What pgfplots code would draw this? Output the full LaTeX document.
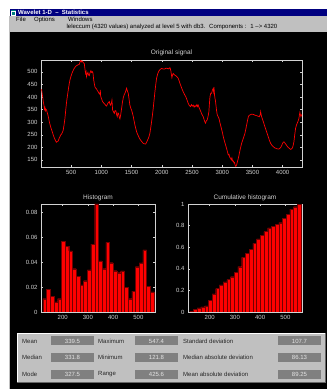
\documentclass[border=0pt]{standalone}
\usepackage{pgfplots}
\pgfplotsset{compat=1.18}
\usepackage{fontspec}
\setmainfont{Liberation Sans}
\definecolor{winblue}{RGB}{0,0,128}
\definecolor{wingray}{RGB}{192,192,192}
\definecolor{boxgray}{RGB}{128,128,128}
\definecolor{axgray}{RGB}{210,210,210}
\newcommand\tf{\fontsize{6}{7}\selectfont}

\pgfplotsset{
  matlab/.style={
    scale only axis,
    axis line style={axgray, line width=0.4pt},
    tick style={axgray, line width=0.4pt},
    major tick length=2pt,
    tick align=inside,
    scaled ticks=false,
    tick label style={font=\tf, text=axgray},
    /pgf/number format/assume math mode=true,
    /pgf/number format/1000 sep={},
  },
  hbar/.style={ybar, bar width=14.7, fill=red, draw=red!45!black, line width=0.2pt},
}

\begin{document}
\begin{tikzpicture}[x=1pt, y=1pt]
\useasboundingbox (0,0) rectangle (327,389);
\fill[white] (0,0) rectangle (327,389);
% window frame
\fill[wingray] (9,0) rectangle (327,372.5);
\fill[winblue] (10,372.5) rectangle (327,379.5);
\fill[teal] (11,373.5) rectangle (16,378.5);
\draw[white, line width=0.4pt] (11.5,374) rectangle (15.5,378);
\node[anchor=base west, text=white, font=\tf\bfseries, inner sep=0] at (18,374) {Wavelet 1-D \ -- \ Statistics};
\node[anchor=base west, font=\tf, inner sep=0] at (16,367) {File};
\node[anchor=base west, font=\tf, inner sep=0] at (34,367) {Options};
\node[anchor=base west, font=\tf, inner sep=0] at (68,367) {Windows};
\node[anchor=base, font=\tf, inner sep=0] at (172,360) {leleccum (4320 values) analyzed at level 5 with db3. \ Components : \ 1 --> 4320};
\fill[black] (10,0) rectangle (327,357);

% original signal
\begin{axis}[matlab, at={(41pt,222pt)}, anchor=south west,
  width=261pt, height=107pt,
  xmin=1, xmax=4320, ymin=121.8, ymax=547.4,
  xtick={500,1000,1500,2000,2500,3000,3500,4000},
  ytick={150,200,250,300,350,400,450,500}]
\addplot[red, line width=0.7pt] coordinates {
(1,430) (12,428) (28,401) (40,380) (50,368) (58,352) (66,358) (74,346) (82,352) (94,348)
(104,338) (114,330) (122,322) (140,300) (160,282) (182,266) (204,249) (220,238) (237,229) (250,222)
(259,220) (270,224) (287,225) (300,235) (314,242) (328,250) (342,253) (356,260) (369,269) (383,290)
(397,315) (411,350) (425,382) (440,408) (452,428) (466,450) (480,468) (494,480) (507,490) (526,502)
(546,512) (568,520) (590,525) (612,528) (634,530) (645,538) (656,547) (668,540) (680,544) (689,541)
(703,536) (717,534) (728,512) (739,494) (747,500) (755,481) (766,492) (777,498) (788,488) (800,485)
(812,496) (827,505) (840,498) (855,501) (863,492) (871,472) (882,455) (893,441) (905,436) (921,432)
(935,425) (948,421) (962,414) (976,411) (982,428) (988,404) (1000,395) (1020,382) (1040,376) (1059,371)
(1073,367) (1087,364) (1100,372) (1115,378) (1131,382) (1142,372) (1153,368) (1165,376) (1175,388) (1186,348)
(1200,342) (1214,335) (1227,346) (1241,345) (1252,330) (1263,322) (1274,337) (1285,335) (1296,320) (1307,313)
(1320,330) (1335,355) (1348,378) (1362,397) (1376,408) (1390,415) (1404,424) (1417,435) (1431,424) (1445,415)
(1458,392) (1472,368) (1486,356) (1500,348) (1514,336) (1528,322) (1542,305) (1555,289) (1569,275) (1583,262)
(1597,253) (1611,246) (1630,236) (1649,229) (1671,222) (1693,216) (1712,214) (1732,213) (1748,220) (1765,229)
(1785,240) (1803,256) (1817,278) (1831,302) (1845,328) (1858,355) (1872,388) (1886,421) (1900,450) (1914,475)
(1932,492) (1952,504) (1975,510) (1996,514) (2020,512) (2051,512) (2070,515) (2090,514) (2112,512) (2134,517)
(2142,512) (2150,504) (2158,490) (2167,477) (2178,488) (2189,494) (2210,488) (2233,485) (2252,480) (2271,475)
(2290,462) (2310,448) (2332,434) (2354,421) (2376,410) (2398,401) (2418,388) (2437,375) (2456,366) (2475,362)
(2490,370) (2505,364) (2520,368) (2535,360) (2550,366) (2564,362) (2580,370) (2592,362) (2602,368) (2620,356)
(2641,345) (2662,332) (2685,322) (2700,310) (2712,302) (2724,296) (2738,306) (2751,309) (2765,322) (2779,342)
(2790,380) (2797,401) (2810,415) (2824,415) (2838,428) (2852,435) (2858,420) (2866,430) (2874,405) (2880,395)
(2888,385) (2896,368) (2907,345) (2918,329) (2932,322) (2946,315) (2962,298) (2979,282) (3000,262) (3018,242)
(3036,225) (3056,209) (3078,190) (3100,170) (3112,172) (3125,160) (3139,156) (3150,150) (3160,158) (3172,145)
(3183,146) (3195,138) (3205,140) (3211,130) (3225,124) (3238,130) (3250,142) (3266,156) (3280,172) (3294,189)
(3308,203) (3321,216) (3335,226) (3349,236) (3362,245) (3376,256) (3390,272) (3404,289) (3418,306) (3432,322)
(3445,327) (3459,329) (3486,332) (3514,331) (3540,328) (3569,326) (3590,324) (3614,322) (3628,330) (3636,342)
(3644,330) (3652,322) (3666,312) (3680,302) (3702,285) (3724,269) (3743,255) (3762,242) (3780,228) (3801,216)
(3822,208) (3845,203) (3867,198) (3889,196) (3911,194) (3933,193) (3950,195) (3966,199) (3983,207) (3999,216)
(4010,220) (4021,222) (4038,217) (4054,212) (4073,205) (4093,199) (4112,196) (4131,192) (4148,194) (4164,199)
(4176,210) (4186,222) (4200,250) (4214,276) (4228,288) (4241,296) (4255,304) (4269,315) (4278,330) (4285,339)
(4293,330) (4302,322) (4312,328) (4320,331)
};
\end{axis}
\node[font=\fontsize{6.5}{7}\selectfont, text=axgray] at (171.5,336) {Original signal};

% histogram
\begin{axis}[matlab, at={(41pt,77pt)}, anchor=south west,
  width=114pt, height=108pt,
  xmin=114, xmax=566, ymin=0, ymax=0.0864,
  xtick={200,300,400,500},
  ytick={0,0.02,0.04,0.06,0.08},
  yticklabels={0,0.02,0.04,0.06,0.08}]
\addplot[hbar] coordinates {
(128.4,0.0107) (143.1,0.0180) (157.8,0.0126) (172.5,0.0080) (187.2,0.0107)
(201.9,0.0564) (216.6,0.0526) (231.3,0.0489) (246.0,0.0346) (260.7,0.0287)
(275.4,0.0217) (290.1,0.0250) (304.8,0.0336) (319.5,0.0542) (334.2,0.0864)
(348.9,0.0408) (363.6,0.0346) (378.3,0.0556) (393.0,0.0395) (407.7,0.0330)
(422.4,0.0314) (437.1,0.0328) (451.8,0.0199) (466.5,0.0107) (481.2,0.0166)
(495.9,0.0362) (510.6,0.0392) (525.3,0.0497) (540.0,0.0204) (554.7,0.0161)
};
\end{axis}
\node[font=\fontsize{6.5}{7}\selectfont, text=axgray] at (98,191) {Histogram};

% cumulative histogram
\begin{axis}[matlab, at={(188pt,77pt)}, anchor=south west,
  width=114pt, height=108pt,
  xmin=114, xmax=566, ymin=0, ymax=1,
  xtick={200,300,400,500},
  ytick={0,0.2,0.4,0.6,0.8,1},
  yticklabels={0,0.2,0.4,0.6,0.8,1}]
\addplot[hbar] coordinates {
(128.4,0.009) (143.1,0.025) (157.8,0.038) (172.5,0.047) (187.2,0.057)
(201.9,0.110) (216.6,0.167) (231.3,0.217) (246.0,0.250) (260.7,0.280)
(275.4,0.300) (290.1,0.327) (304.8,0.365) (319.5,0.420) (334.2,0.506)
(348.9,0.544) (363.6,0.578) (378.3,0.635) (393.0,0.676) (407.7,0.708)
(422.4,0.745) (437.1,0.780) (451.8,0.796) (466.5,0.811) (481.2,0.827)
(495.9,0.865) (510.6,0.902) (525.3,0.953) (540.0,0.975) (554.7,0.997)
};
\end{axis}
\node[font=\fontsize{6.5}{7}\selectfont, text=axgray] at (245,191) {Cumulative histogram};

% statistics panel
\fill[wingray] (17,7) rectangle (325,56);
\draw[white, line width=0.5pt] (17,7) -- (17,56) -- (325,56);
\draw[black!60, line width=0.5pt] (17,7) -- (325,7) -- (325,56);
\foreach \yy/\la/\va/\lb/\vb/\lc/\vc in {
  48/Mean/339.5/Maximum/547.4/Standard deviation/107.7,
  31.5/Median/331.8/Minimum/121.8/Median absolute deviation/86.13,
  14.5/Mode/327.5/Range/425.6/Mean absolute deviation/89.25} {
  \node[anchor=west, font=\tf, text=black!85, inner sep=0] at (22,\yy) {\la};
  \node[anchor=west, font=\tf, text=black!85, inner sep=0] at (98,\yy) {\lb};
  \node[anchor=west, font=\tf, text=black!85, inner sep=0] at (183,\yy) {\lc};
  \fill[boxgray] (51,\yy-4.5) rectangle (94,\yy+4.5);
  \fill[boxgray] (135,\yy-4.5) rectangle (178,\yy+4.5);
  \fill[boxgray] (278,\yy-4.5) rectangle (321,\yy+4.5);
  \node[font=\tf, text=black!10, inner sep=0] at (72.5,\yy) {\va};
  \node[font=\tf, text=black!10, inner sep=0] at (156.5,\yy) {\vb};
  \node[font=\tf, text=black!10, inner sep=0] at (299.5,\yy) {\vc};
}
\end{tikzpicture}
\end{document}
